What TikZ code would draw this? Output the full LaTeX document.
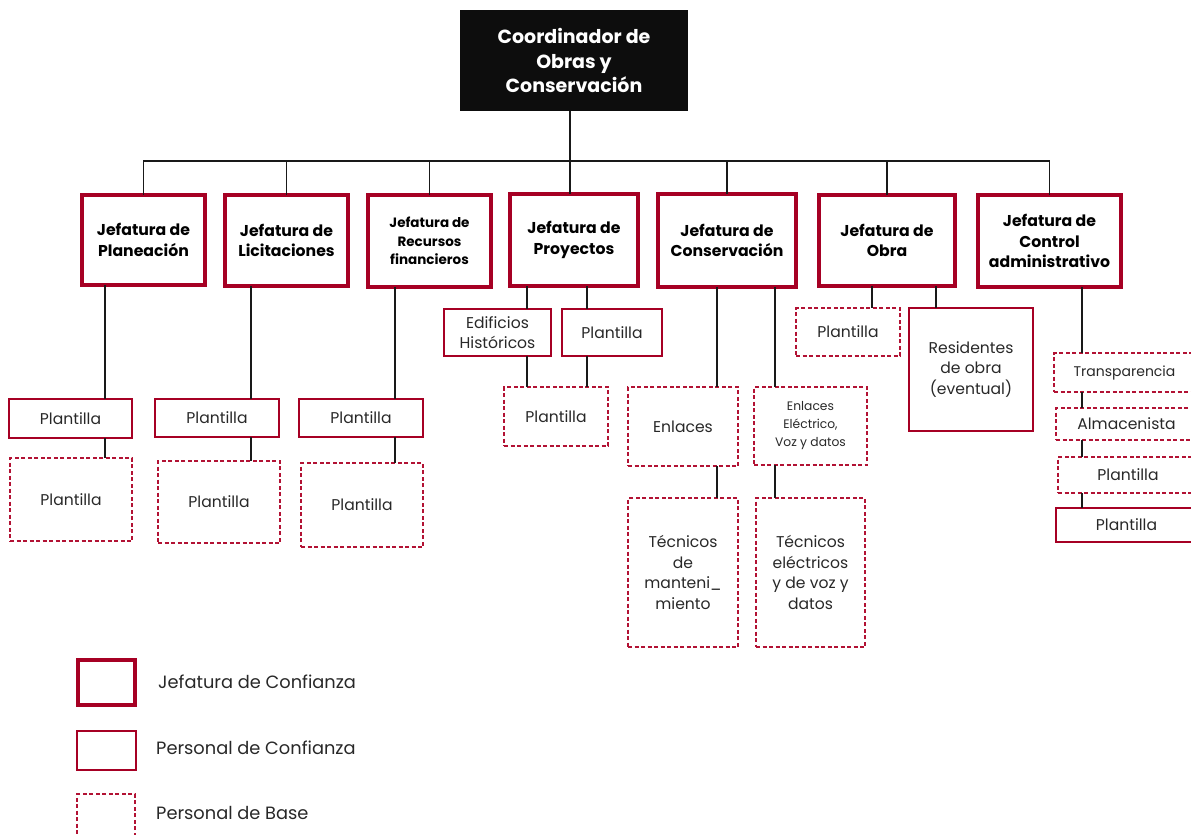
\documentclass[tikz,border=0pt]{standalone}
\usepackage{fontspec}
\setmainfont{Poppins}
\definecolor{jred}{RGB}{166,0,36}
\definecolor{dred}{RGB}{178,18,52}
\definecolor{ink}{RGB}{40,40,40}
\newcommand{\bx}[7]{\node[#1, minimum width={(#5-#3)*1pt}, minimum height={(#6-#4)*1pt}] (#2) at ({(#3+#5)/2},{(#4+#6)/2}) {#7};}
\begin{document}
\begin{tikzpicture}[x=1pt,y=-1pt,
 base/.style={rectangle, inner sep=1pt, outer sep=0pt, align=center, text=ink, font=\fontsize{15.6}{20.5}\selectfont},
 jefe/.style={base, draw=jred, line width=4pt, text=black, font=\bfseries\fontsize{15.7}{20.5}\selectfont},
 jefesm/.style={jefe, font=\bfseries\fontsize{13.5}{18.5}\selectfont},
 conf/.style={base, draw=jred, line width=1.5pt},
 basep/.style={base, draw=dred, line width=1.5pt, dash pattern=on 4pt off 2.5pt},
 smalltxt/.style={font=\fontsize{12.3}{18}\selectfont},
 midtxt/.style={font=\fontsize{14}{18}\selectfont},
 coordbox/.style={base, fill=black!95, text=white, font=\bfseries\fontsize{19}{24.5}\selectfont},
 link/.style={draw=black!90, line width=1.3pt},
 legtxt/.style={anchor=west, inner sep=0pt, text=ink, font=\fontsize{17.8}{20}\selectfont}]
\useasboundingbox (0,0) rectangle (1191,835);
\clip (0,0) rectangle (1191,835);
% top
\bx{coordbox}{co}{460}{10}{688}{111}{Coordinador de\\Obras y\\Conservación}
% jefaturas
\bx{jefe}{j1}{82}{195}{205}{285}{Jefatura de\\Planeación}
\bx{jefe}{j2}{225}{195}{348}{286}{Jefatura de\\Licitaciones}
\bx{jefesm}{j3}{368}{195}{491}{287}{Jefatura de\\Recursos\\financieros}
\bx{jefe}{j4}{510}{194}{638}{286}{Jefatura de\\Proyectos}
\bx{jefe}{j5}{658}{194}{796}{287}{Jefatura de\\Conservación}
\bx{jefe}{j6}{819}{195}{955}{286}{Jefatura de\\Obra}
\bx{jefe}{j7}{978}{195}{1121}{287}{Jefatura de\\Control\\administrativo}
% children
\bx{conf}{p1a}{9}{399}{132}{438}{Plantilla}
\bx{basep}{p1b}{10}{458}{132}{541}{Plantilla}
\bx{conf}{p2a}{155}{399}{279}{437}{Plantilla}
\bx{basep}{p2b}{158}{461}{280}{543}{Plantilla}
\bx{conf}{p3a}{299}{399}{423}{437}{Plantilla}
\bx{basep}{p3b}{301}{463}{423}{547}{Plantilla}
\bx{conf}{p4a}{444}{309}{551}{356}{Edificios\\Históricos}
\bx{conf}{p4b}{562}{309}{662}{356}{Plantilla}
\bx{basep}{p4c}{504}{387}{608}{446}{Plantilla}
\bx{basep}{p5a}{628}{387}{738}{466}{Enlaces}
\bx{basep,smalltxt}{p5b}{754}{387}{867}{465}{Enlaces\\Eléctrico,\\Voz y datos}
\bx{basep}{p5c}{628}{498}{738}{647}{Técnicos\\de\\manteni\_\\miento}
\bx{basep}{p5d}{756}{498}{865}{647}{Técnicos\\eléctricos\\y de voz y\\datos}
\bx{basep}{p6a}{796}{308}{900}{356}{Plantilla}
\bx{conf}{p6b}{909}{308}{1033}{431}{Residentes\\de obra\\(eventual)}
\bx{basep,midtxt}{p7a}{1054}{353}{1195}{392}{Transparencia}
\bx{basep}{p7b}{1056}{408}{1197}{440}{Almacenista}
\bx{basep}{p7c}{1058}{457}{1198}{493}{Plantilla}
\bx{conf}{p7d}{1056}{508}{1197}{542}{Plantilla}
% connectors
\coordinate (bus) at (0,161);
\coordinate (mx) at (570,0);
\draw[link] (co.south -| mx) -- (j4.north -| mx);
\draw[link] (j1.north) -- (j1.north |- bus) -- (j7.north |- bus) -- (j7.north);
\foreach \j in {j2,j3,j5,j6} {\draw[link] (\j.north |- bus) -- (\j.north);}
\coordinate (x1) at (105,0);
\coordinate (x2) at (251,0);
\coordinate (x3) at (395,0);
\coordinate (x4a) at (527,0);
\coordinate (x4b) at (587,0);
\coordinate (x5a) at (717,0);
\coordinate (x5b) at (775,0);
\coordinate (x6a) at (872,0);
\coordinate (x6b) at (936,0);
\coordinate (x7) at (1082,0);
\draw[link] (j1.south -| x1) -- (p1a.north -| x1);
\draw[link] (p1a.south -| x1) -- (p1b.north -| x1);
\draw[link] (j2.south -| x2) -- (p2a.north -| x2);
\draw[link] (p2a.south -| x2) -- (p2b.north -| x2);
\draw[link] (j3.south -| x3) -- (p3a.north -| x3);
\draw[link] (p3a.south -| x3) -- (p3b.north -| x3);
\draw[link] (j4.south -| x4a) -- (p4a.north -| x4a);
\draw[link] (p4a.south -| x4a) -- (p4c.north -| x4a);
\draw[link] (j4.south -| x4b) -- (p4b.north -| x4b);
\draw[link] (p4b.south -| x4b) -- (p4c.north -| x4b);
\draw[link] (j5.south -| x5a) -- (p5a.north -| x5a);
\draw[link] (p5a.south -| x5a) -- (p5c.north -| x5a);
\draw[link] (j5.south -| x5b) -- (p5b.north -| x5b);
\draw[link] (p5b.south -| x5b) -- (p5d.north -| x5b);
\draw[link] (j6.south -| x6a) -- (p6a.north -| x6a);
\draw[link] (j6.south -| x6b) -- (p6b.north -| x6b);
\draw[link] (j7.south -| x7) -- (p7a.north -| x7);
\draw[link] (p7a.south -| x7) -- (p7b.north -| x7);
\draw[link] (p7b.south -| x7) -- (p7c.north -| x7);
\draw[link] (p7c.south -| x7) -- (p7d.north -| x7);
% legend
\bx{jefe}{l1}{78}{660}{135}{705}{}
\bx{conf}{l2}{77}{731}{136}{770}{}
\bx{basep}{l3}{77}{794}{135}{850}{}
\node[legtxt] (t1) at (158,682) {Jefatura de Confianza};
\node[legtxt] (t2) at (156,748) {Personal de Confianza};
\node[legtxt] (t3) at (156,813) {Personal de Base};
\end{tikzpicture}
\end{document}
